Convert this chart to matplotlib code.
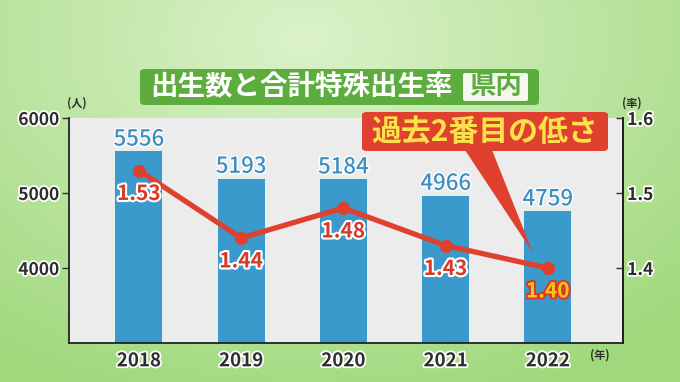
import matplotlib.pyplot as plt
import matplotlib.patheffects as pe
from matplotlib.patches import FancyBboxPatch, Polygon
import numpy as np

plt.rcParams['font.family'] = ['Noto Sans CJK JP', 'DejaVu Sans']

# データ
years = ['2018', '2019', '2020', '2021', '2022']
births = [5556, 5193, 5184, 4966, 4759]
rates = [1.53, 1.44, 1.48, 1.43, 1.40]
left_ticks = [4000, 5000, 6000]
right_ticks = [1.4, 1.5, 1.6]

BAR_BLUE = '#3a9acb'
LINE_RED = '#e0402e'
DARK = '#2e2e2e'

fig = plt.figure(figsize=(6.8, 3.82), dpi=100)

# ---- 背景グラデーション ----
ax_bg = fig.add_axes([0, 0, 1, 1], zorder=-5)
gx, gy = np.meshgrid(np.linspace(0, 1, 340), np.linspace(0, 1, 191))
d = np.sqrt(((gx - 0.45) / 0.8) ** 2 + ((gy - 0.1) / 1.0) ** 2)
d = np.clip(d, 0, 1)
c0 = np.array([0.86, 0.95, 0.79])
c1 = np.array([0.63, 0.85, 0.49])
img = c0[None, None, :] * (1 - d[..., None]) + c1[None, None, :] * d[..., None]
ax_bg.imshow(img, extent=[0, 1, 0, 1], aspect='auto', origin='upper')
ax_bg.set_axis_off()

# ---- メイン軸 ----
ax = fig.add_axes([69 / 680, 1 - 343 / 382, (623 - 69) / 680, (343 - 118) / 382])
ax.set_facecolor('#ececec')
x = np.arange(len(years))
bars = ax.bar(x, births, width=0.46, color=BAR_BLUE, zorder=2)
ax.set_xlim(-0.684, 4.736)
ax.set_ylim(3000, 6000)

ax.spines['top'].set_visible(False)
for s in ['left', 'bottom', 'right']:
    ax.spines[s].set_color('#222222')
    ax.spines[s].set_linewidth(1.3)

stroke = [pe.withStroke(linewidth=2.5, foreground='white')]

ax.set_yticks(left_ticks)
ax.set_yticklabels([str(t) for t in left_ticks])
ax.tick_params(axis='y', direction='out', length=5, width=1, color='#333333',
               labelsize=12.5, labelcolor=DARK, pad=2)
for lab in ax.get_yticklabels():
    lab.set_fontweight('bold')
    lab.set_path_effects(stroke)

ax.set_xticks(x)
ax.set_xticklabels(years)
ax.tick_params(axis='x', length=0, labelsize=13.5, labelcolor=DARK, pad=6)
for lab in ax.get_xticklabels():
    lab.set_fontweight('bold')
    lab.set_path_effects(stroke)

# 出生数ラベル
for xi, b in zip(x, births):
    ax.annotate(f'{b}', (xi, b), xytext=(0, 0.5), textcoords='offset points',
                ha='center', va='bottom', fontsize=16, color='#3b8fc2',
                fontweight='medium',
                path_effects=[pe.withStroke(linewidth=2, foreground='white')])

# ---- 右軸(出生率) ----
ax2 = ax.twinx()
ax2.set_ylim(1.3, 1.6)
ax2.set_yticks(right_ticks)
ax2.set_yticklabels([f'{t:.1f}' for t in right_ticks])
ax2.tick_params(axis='y', direction='in', length=5, width=1, color='#333333',
                labelsize=12.5, labelcolor=DARK, pad=3)
for lab in ax2.get_yticklabels():
    lab.set_fontweight('bold')
    lab.set_path_effects(stroke)
for s in ax2.spines.values():
    s.set_visible(False)
ax2.spines['right'].set_visible(True)
ax2.spines['right'].set_color('#222222')
ax2.spines['right'].set_linewidth(1.3)

ax2.plot(x, rates, color=LINE_RED, linewidth=3.8, marker='o', markersize=8.5,
         solid_capstyle='round', zorder=3)

for i, (xi, r) in enumerate(zip(x, rates)):
    last = i == len(rates) - 1
    ax2.annotate(f'{r:.2f}', (xi, r), xytext=(0, -9), textcoords='offset points',
                 ha='center', va='top', fontsize=15, fontweight='bold',
                 color='#f7c51c' if last else '#d93a28',
                 path_effects=[pe.withStroke(linewidth=3,
                                             foreground='#d93a28' if last else 'white')],
                 zorder=4)

# 単位
fig.text(77 / 680, 1 - 103 / 382, '(人)', ha='center', va='center', fontsize=8,
         color=DARK, fontweight='bold')
fig.text(632 / 680, 1 - 103 / 382, '(率)', ha='center', va='center', fontsize=8,
         color=DARK, fontweight='bold')
fig.text(600 / 680, 1 - 355 / 382, '(年)', ha='center', va='center', fontsize=8,
         color=DARK, fontweight='bold')

# ---- タイトル ----
fig.add_artist(FancyBboxPatch((140 / 680, 1 - 105 / 382), 399 / 680, 36 / 382,
                              boxstyle='round,pad=0,rounding_size=0.008',
                              transform=fig.transFigure, facecolor='#5cad3e',
                              edgecolor='none', zorder=5))
fig.text(150 / 680, 1 - 87 / 382, '出生数と合計特殊出生率', ha='left', va='center',
         fontsize=19.8, fontweight='bold', color='white', zorder=6)
fig.add_artist(FancyBboxPatch((463 / 680, 1 - 101 / 382), 65 / 680, 28 / 382,
                              boxstyle='round,pad=0,rounding_size=0.004',
                              transform=fig.transFigure, facecolor='#f4f8ef',
                              edgecolor='none', zorder=6))
fig.text(495.5 / 680, 1 - 87 / 382, '県内', ha='center', va='center',
         fontsize=19, fontweight='bold', color='#5cad3e', zorder=7)

# ---- 吹き出し ----
fig.add_artist(Polygon([(465 / 680, 1 - 150 / 382), (492 / 680, 1 - 150 / 382),
                        (533 / 680, 1 - 253 / 382)], closed=True,
                       transform=fig.transFigure, facecolor=LINE_RED,
                       edgecolor='none', zorder=7))
fig.add_artist(FancyBboxPatch((362 / 680, 1 - 151 / 382), 246 / 680, 39 / 382,
                              boxstyle='round,pad=0,rounding_size=0.008',
                              transform=fig.transFigure, facecolor=LINE_RED,
                              edgecolor='none', zorder=7))
fig.text(485 / 680, 1 - 131.5 / 382, '過去2番目の低さ', ha='center', va='center',
         fontsize=21.5, fontweight='bold', color='#fbe24a', zorder=8)

fig.savefig('out.png', dpi=100)
